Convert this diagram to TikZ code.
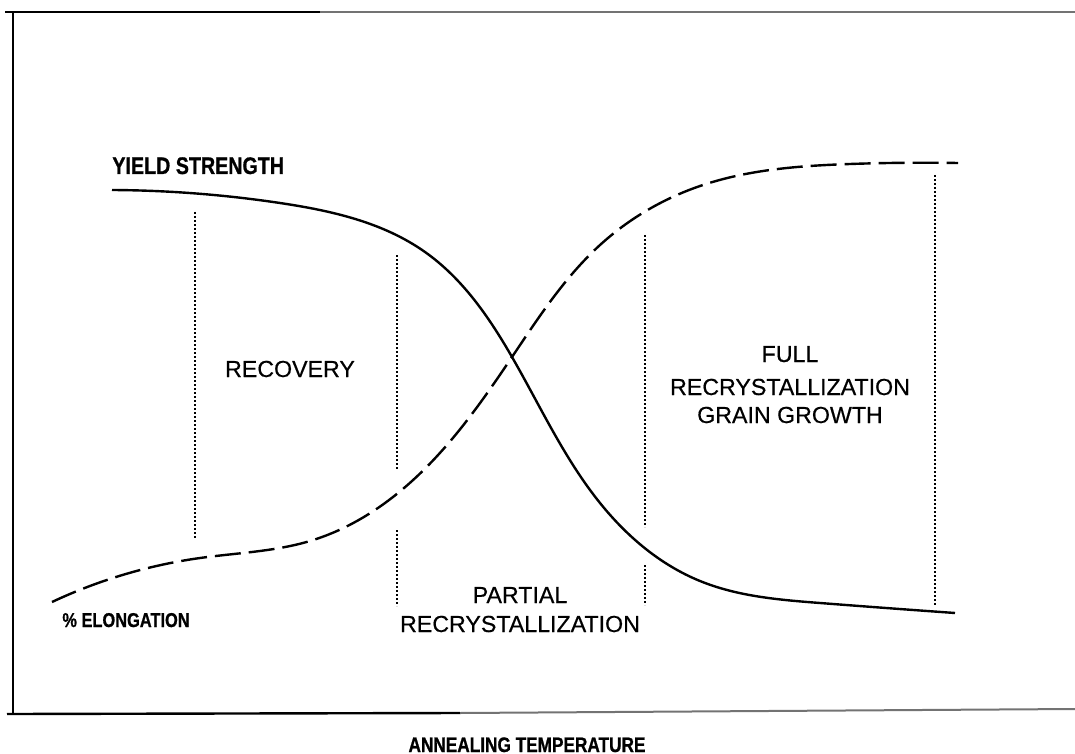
\documentclass[tikz,border=0pt]{standalone}
\usepackage{fontspec}
\usetikzlibrary{hobby}
\setmainfont{Liberation Sans}
\newfontfamily\condbold[FakeStretch=0.82,FakeBold=0.8]{Liberation Sans Bold}
\newfontfamily\regionfont[FakeBold=0.5]{Liberation Sans}
\begin{document}
\begin{tikzpicture}[x=0.5pt,y=-0.5pt,
  frame/.style={line width=1.2pt, black},
  framelight/.style={line width=1.0pt, black!55},
  ysline/.style={line width=1.2pt, use Hobby shortcut},
  elline/.style={line width=1.2pt, dash pattern=on 13pt off 4pt, use Hobby shortcut},
  divider/.style={line width=1.3pt, dash pattern=on 1.2pt off 0.8pt},
  region/.style={font=\regionfont\fontsize{11.6}{14}\selectfont, inner sep=0pt, anchor=base},
  caption/.style={inner sep=0pt}]
\useasboundingbox (0,0) rectangle (1075,754);

% frame
\coordinate (ftl) at (13,12);
\coordinate (fbl) at (13,715);
\coordinate (ftx) at (5,12);
\coordinate (ftm) at (320,12);
\coordinate (ftr) at (1075,12);
\coordinate (fbx) at (7,714);
\coordinate (fbm) at (460,713);
\coordinate (fbr) at (1075,709);
\draw[frame] (ftl) -- (fbl);
\draw[frame] (ftx) -- (ftm);
\draw[framelight] (ftm) -- (ftr);
\draw[frame] (fbx) -- (fbm);
\draw[framelight] (fbm) -- (fbr);

% crossing point of the two curves
\coordinate (cross) at (512,357);

% yield strength curve
\coordinate (ys0) at (112,190);
\coordinate (ys1) at (280,203);
\coordinate (ys2) at (425,252);
\coordinate (ys3) at (600,503);
\coordinate (ys4) at (700,581);
\coordinate (ys5) at (820,603);
\coordinate (ys6) at (955,613);
\draw[ysline] (ys0) .. (ys1) .. (ys2) .. (cross) .. (ys3) .. (ys4) .. (ys5) .. (ys6);

% elongation curve
\coordinate (el0) at (52,602);
\coordinate (el1) at (200,558);
\coordinate (el2) at (310,541);
\coordinate (el3) at (393,497);
\coordinate (el4) at (600,245);
\coordinate (el5) at (700,186);
\coordinate (el6) at (850,164);
\coordinate (el7) at (958,163);
\draw[elline] (el0) .. (el1) .. (el2) .. (el3) .. (cross) .. (el4) .. (el5) .. (el6) .. (el7);

% dividers
\coordinate (d1t) at (195,212); \coordinate (d1b) at (195,538);
\coordinate (d2t) at (397,255); \coordinate (d2m) at (397,470);
\coordinate (d2n) at (397,530); \coordinate (d2b) at (397,606);
\coordinate (d3t) at (645,235); \coordinate (d3m) at (645,527);
\coordinate (d3n) at (645,565); \coordinate (d3b) at (645,605);
\coordinate (d4t) at (935,175); \coordinate (d4b) at (935,606);
\draw[divider] (d1t) -- (d1b);
\draw[divider] (d2t) -- (d2m);
\draw[divider] (d2n) -- (d2b);
\draw[divider] (d3t) -- (d3m);
\draw[divider] (d3n) -- (d3b);
\draw[divider] (d4t) -- (d4b);

% labels
\node[caption, anchor=base west, font=\condbold\fontsize{12}{14}\selectfont] (ys) at (112,174) {YIELD STRENGTH};
\node[caption, anchor=base west, font=\condbold\fontsize{10}{12}\selectfont] (el) at (62,627) {\% ELONGATION};
\node[caption, anchor=base, font=\condbold\fontsize{10.5}{12}\selectfont] (at) at (527,752) {ANNEALING TEMPERATURE};

\node[region] (rec) at (290,377) {RECOVERY};
\node[region] (pr1) at (520,603) {PARTIAL};
\node[region] (pr2) at (520,632) {RECRYSTALLIZATION};
\node[region] (fr1) at (790,362) {FULL};
\node[region] (fr2) at (790,395) {RECRYSTALLIZATION};
\node[region] (fr3) at (790,423) {GRAIN GROWTH};
\end{tikzpicture}
\end{document}
